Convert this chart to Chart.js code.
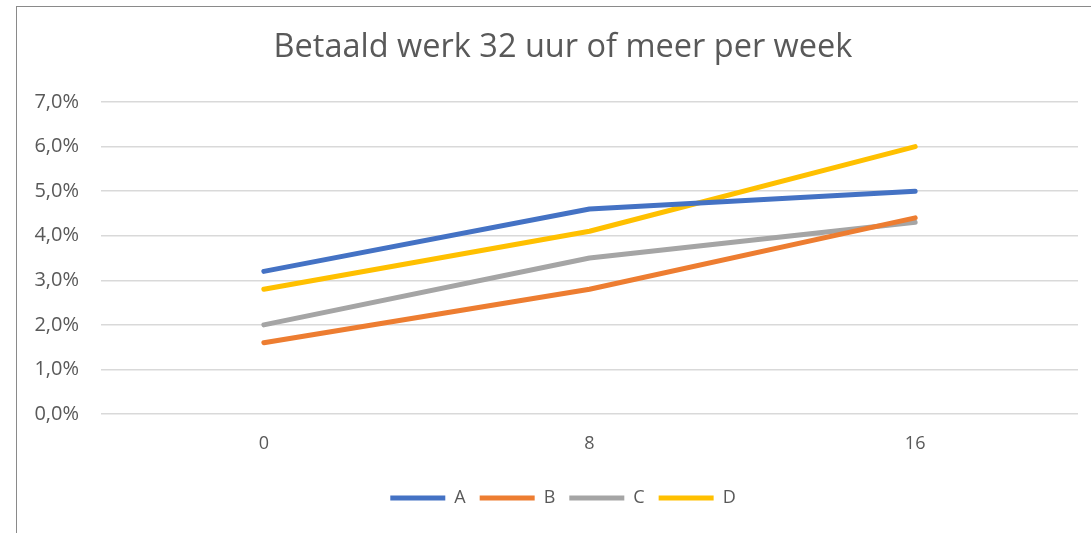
<!DOCTYPE html>
<html>
<head>
<meta charset="utf-8">
<script src="https://cdn.jsdelivr.net/npm/chart.js@4"></script>
<style>
  body { margin: 0; background: #fff; }
  #frame { position: absolute; left: 16px; top: 6px; width: 1100px; height: 540px;
           border-left: 1.5px solid #8a8a8a; border-top: 1.5px solid #8a8a8a; }
  #wrap { position: absolute; left: 0; top: 0; width: 1091px; height: 533px; }
</style>
</head>
<body>
<div id="frame"></div>
<div id="wrap"><canvas id="chart"></canvas></div>
<script>
// values
var categories = ['0', '8', '16'];
var seriesA = [3.2, 4.6, 5.0];
var seriesB = [1.6, 2.8, 4.4];
var seriesC = [2.0, 3.5, 4.3];
var seriesD = [2.8, 4.1, 6.0];

function serie(label, data, color) {
  return {
    label: label,
    data: data,
    borderColor: color,
    backgroundColor: color,
    borderWidth: 5,
    borderCapStyle: 'round',
    borderJoinStyle: 'round',
    pointRadius: 0,
    pointHoverRadius: 0,
    tension: 0,
    fill: false
  };
}

// title and legend are centred a bit left of the plot, so the left padding
// is kept and the y labels are allowed to draw into it
var unclipY = {
  id: 'unclipY',
  afterLayout: function(chart) {
    var s = chart.scales.y;
    s.left = 0;
    s.width = s.right;
  }
};

Chart.defaults.font.family = "'Open Sans', sans-serif";
Chart.defaults.color = '#595959';

var ctx = document.getElementById('chart').getContext('2d');
var myChart = new Chart(ctx, {
  type: 'line',
  data: {
    labels: categories,
    datasets: [
      serie('A', seriesA, '#4472C4'),
      serie('B', seriesB, '#ED7D31'),
      serie('C', seriesC, '#A5A5A5'),
      serie('D', seriesD, '#FFC000')
    ]
  },
  plugins: [unclipY],
  options: {
    responsive: true,
    maintainAspectRatio: false,
    animation: false,
    layout: { padding: { left: 48, right: 13, top: 0, bottom: 16 } },
    plugins: {
      title: {
        display: true,
        text: 'Betaald werk 32 uur of meer per week',
        font: { size: 32.5, weight: 'normal' },
        color: '#595959',
        padding: { top: 28, bottom: 35 }
      },
      legend: {
        position: 'bottom',
        labels: {
          usePointStyle: true,
          pointStyle: 'line',
          pointStyleWidth: 55,
          boxHeight: 18,
          font: { size: 18 },
          color: '#595959',
          padding: 14
        }
      },
      tooltip: { enabled: false }
    },
    scales: {
      x: {
        offset: true,
        grid: { display: false },
        border: { display: false },
        ticks: { font: { size: 18 }, color: '#595959', padding: 11 },
        afterFit: function(scale) { scale.height = 61; }
      },
      y: {
        min: 0,
        max: 7,
        grid: { color: '#d9d9d9', lineWidth: 1.5, drawTicks: false },
        border: { display: false },
        ticks: {
          stepSize: 1,
          font: { size: 20 },
          color: '#595959',
          padding: 22,
          callback: function(v) { return v.toFixed(1).replace('.', ',') + '%'; }
        },
        afterFit: function(scale) { scale.width = 53; }
      }
    }
  }
});
</script>
</body>
</html>
